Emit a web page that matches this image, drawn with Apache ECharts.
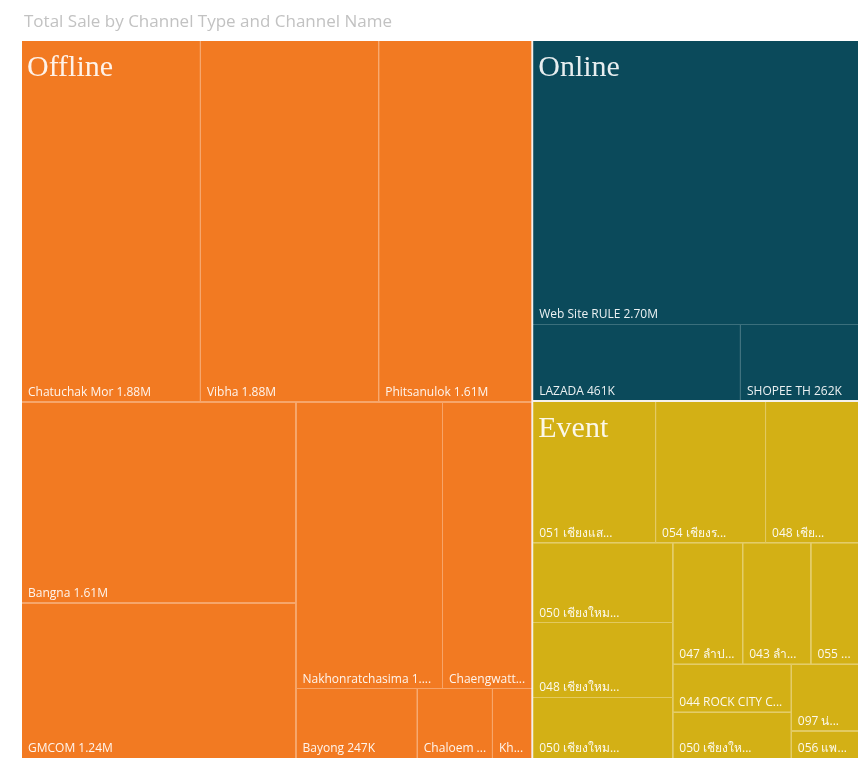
<!DOCTYPE html>
<html><head><meta charset="utf-8">
<script src="https://cdn.jsdelivr.net/npm/echarts@6/dist/echarts.min.js"></script>
<style>html,body{margin:0;padding:0;background:#fff}#c{width:860px;height:761px}</style>
</head><body><div id="c"></div>
<script>
const chartTitle = 'Total Sale by Channel Type and Channel Name';
const groupNames = ['Offline', 'Online', 'Event'];

const offlineNames = ['Chatuchak Mor', 'Vibha', 'Phitsanulok', 'Bangna', 'GMCOM', 'Nakhonratchasima', 'Chaengwattana', 'Bayong', 'Chaloem Phrakiat', 'Khon Kaen'];
const offlineValues = [1884000, 1877000, 1612000, 1606000, 1244000, 1223000, 745000, 247000, 153000, 80000];

const onlineNames = ['Web Site RULE', 'LAZADA', 'SHOPEE TH'];
const onlineValues = [2702000, 461000, 262000];

const eventNames = ['051 เชียงแสนพลาซ่า', '054 เชียงรายเซ็นทรัล', '048 เชียงใหม่แอร์พอร์ต', '050 เชียงใหม่เมญ่าช้อปปิ้ง', '048 เชียงใหม่กาดสวนแก้ว', '050 เชียงใหม่ริมปิงซุปเปอร์สโตร์', '047 ลำปางเซ็นทรัล', '043 ลำพูนพลาซ่า', '055 พะเยา', '044 ROCK CITY CHIANGMAI', '050 เชียงใหม่นิมมานเหมินท์', '097 น่านพลาซ่า', '056 แพร่'];
const eventValues = [506000, 453000, 383000, 327000, 306000, 250000, 248000, 242000, 169000, 166000, 160000, 131000, 54000];

const groupColors = ['#F27A22', '#0B4A5B', '#D3B015'];
const groupLines = ['#F7A468', '#3B6F7C', '#E3C95E'];

function fmt(v) {
  if (v >= 1e6) return (v / 1e6).toFixed(2) + 'M';
  return Math.round(v / 1e3) + 'K';
}
const sum = a => a.reduce((s, x) => s + x, 0);

const childSets = [[offlineNames, offlineValues], [onlineNames, onlineValues], [eventNames, eventValues]];
const treeData = groupNames.map((g, i) => ({
  name: g,
  itemStyle: { color: groupColors[i], borderColor: groupLines[i], borderWidth: 0, gapWidth: 1 },
  children: childSets[i][0].map((n, j) => ({
    name: n, value: childSets[i][1][j],
    itemStyle: { color: groupColors[i], borderWidth: 0 }
  }))
}));
const groupData = groupNames.map((g, i) => ({ name: g, value: sum(childSets[i][1]) }));

const box = { left: 22, top: 41, width: 836, height: 717 };
const chart = echarts.init(document.getElementById('c'));
chart.setOption({
  animation: false,
  title: {
    text: chartTitle, left: 19, top: 9,
    textStyle: { fontSize: 17, fontWeight: 'normal', color: '#c2c2c2', fontFamily: 'Open Sans' }
  },
  series: [
    Object.assign({
      type: 'treemap', roam: false, nodeClick: false, squareRatio: 1.6, sort: 'desc',
      breadcrumb: { show: false },
      upperLabel: { show: false, height: 0 },
      levels: [
        { itemStyle: { borderWidth: 0, gapWidth: 2, borderColor: '#f4f1ec' } },
        { itemStyle: { borderWidth: 0, gapWidth: 1 } },
        { itemStyle: { borderWidth: 0 } }
      ],
      label: {
        show: true, position: 'insideBottomLeft', color: 'rgba(255,255,255,0.92)',
        fontSize: 12, fontFamily: 'Open Sans', padding: [0, 4, 3, 6],
        formatter: p => p.name + ' ' + fmt(p.value)
      },
      data: treeData
    }, box),
    Object.assign({
      type: 'treemap', roam: false, nodeClick: false, squareRatio: 1.6, sort: 'desc', silent: true, z: 5,
      breadcrumb: { show: false },
      upperLabel: { show: false, height: 0 },
      levels: [
        { itemStyle: { borderWidth: 0, gapWidth: 2, borderColor: 'rgba(0,0,0,0)', color: 'rgba(0,0,0,0)' } },
        { itemStyle: { borderWidth: 0, color: 'rgba(0,0,0,0)', borderColor: 'rgba(0,0,0,0)' } }
      ],
      label: {
        show: true, position: 'insideTopLeft', color: 'rgba(255,255,255,0.9)',
        fontSize: 30, fontFamily: 'Liberation Serif', padding: [12, 0, 0, 5],
        formatter: p => p.name
      },
      data: groupData
    }, box)
  ]
});
</script></body></html>
